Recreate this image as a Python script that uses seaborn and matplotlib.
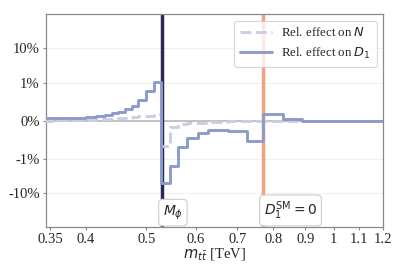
import matplotlib
matplotlib.use("Agg")
import matplotlib.pyplot as plt
import matplotlib.transforms as mtransforms
from matplotlib.ticker import FixedLocator, FixedFormatter, NullLocator
import seaborn as sns
import pandas as pd

# bin edges in m_tt [TeV]
edges = [0.34, 0.36, 0.38, 0.40, 0.415, 0.429, 0.44, 0.45, 0.462, 0.474, 0.485,
         0.50, 0.514, 0.527, 0.545, 0.562, 0.581, 0.605, 0.628, 0.677, 0.726,
         0.77, 0.828, 0.889, 0.95, 1.02, 1.1, 1.25]

# relative effects in percent, one per bin
rel_D1 = [0.06, 0.07, 0.08, 0.10, 0.12, 0.15, 0.19, 0.23, 0.30, 0.38, 0.54,
          0.77, 1.07, -5.0, -1.6, -0.70, -0.47, -0.33, -0.26, -0.28, -0.54,
          0.18, 0.03, -0.02, -0.02, -0.02, -0.02]
rel_N = [0.0, 0.01, 0.01, 0.02, 0.03, 0.04, 0.05, 0.06, 0.07, 0.085, 0.11,
         0.13, 0.17, -0.68, -0.18, -0.08, -0.07, -0.06, -0.04, -0.01, -0.01,
         -0.01, -0.01, -0.01, -0.01, -0.01, -0.01]

m_phi = 0.53
m_zero = 0.77

xticks = [0.35, 0.4, 0.5, 0.6, 0.7, 0.8, 0.9, 1.0, 1.1, 1.2]
xticklabels = ["0.35", "0.4", "0.5", "0.6", "0.7", "0.8", "0.9", "1", "1.1", "1.2"]
yticks = [-10, -1, 0, 1, 10]
yticklabels = ["-10%", "-1%", "0%", "1%", "10%"]

sns.set_theme(style="white")
plt.rcParams["font.family"] = ["Liberation Serif", "DejaVu Serif"]
plt.rcParams["mathtext.fontset"] = "dejavusans"

df = pd.DataFrame({"m": edges,
                   "N": rel_N + [rel_N[-1]],
                   "D1": rel_D1 + [rel_D1[-1]]})

fig = plt.figure(figsize=(4.07, 2.71), dpi=100)
ax = fig.add_axes([0.113, 0.162, 0.828, 0.786])

ax.axhline(0, color="#bdbdbd", lw=1.3, zorder=1)
ax.axvline(m_phi, color="#2b2857", lw=2.5, zorder=2)
ax.axvline(m_zero, color="#f4a07e", lw=2.5, zorder=2)

sns.lineplot(data=df, x="m", y="N", ax=ax, color="#c8cee6", lw=2.1,
             linestyle="--", dashes=(3.3, 2.0), drawstyle="steps-post",
             estimator=None, label="Rel. effect on $N$", zorder=3)
sns.lineplot(data=df, x="m", y="D1", ax=ax, color="#8d9bca", lw=2.1,
             drawstyle="steps-post", estimator=None,
             label="Rel. effect on $D_1$", zorder=4)

ax.set_xscale("log")
ax.set_yscale("symlog", linthresh=1, linscale=1)
ax.set_xlim(0.345, 1.2)
ax.set_ylim(-100, 100)

ax.xaxis.set_major_locator(FixedLocator(xticks))
ax.xaxis.set_major_formatter(FixedFormatter(xticklabels))
ax.xaxis.set_minor_locator(NullLocator())
ax.yaxis.set_major_locator(FixedLocator(yticks))
ax.yaxis.set_major_formatter(FixedFormatter(yticklabels))
ax.yaxis.set_minor_locator(NullLocator())

ax.grid(axis="y", color="#f0f0f0", lw=0.8)
ax.tick_params(axis="both", labelsize=10.5, length=2.5, width=0.8,
               color="#888888", pad=2, left=True, bottom=True)
for sp in ax.spines.values():
    sp.set_color("#8a8a8a")
    sp.set_linewidth(0.9)

ax.set_xlabel(r"$m_{t\bar{t}}$ [TeV]", fontsize=10.5, labelpad=0)
ax.set_ylabel("")

trans = mtransforms.blended_transform_factory(ax.transData, ax.transAxes)
box = dict(boxstyle="round,pad=0.3", fc="white", ec="#cccccc", lw=0.8)
ax.text(m_phi * 1.003, 0.025, r"$M_\phi$", transform=trans, ha="left",
        va="bottom", fontsize=10, bbox=box, zorder=6)
ax.text(m_zero * 1.003, 0.025, r"$D_1^{\rm SM} = 0$", transform=trans,
        ha="left", va="bottom", fontsize=10, bbox=box, zorder=6)

leg = ax.legend(loc="upper right", fontsize=9.3, frameon=True,
                handlelength=2.5, handletextpad=0.7, borderpad=0.45,
                labelspacing=0.5, borderaxespad=0.5)
leg.get_frame().set_edgecolor("#cccccc")
leg.get_frame().set_linewidth(0.8)

fig.savefig("out.png", dpi=100)
